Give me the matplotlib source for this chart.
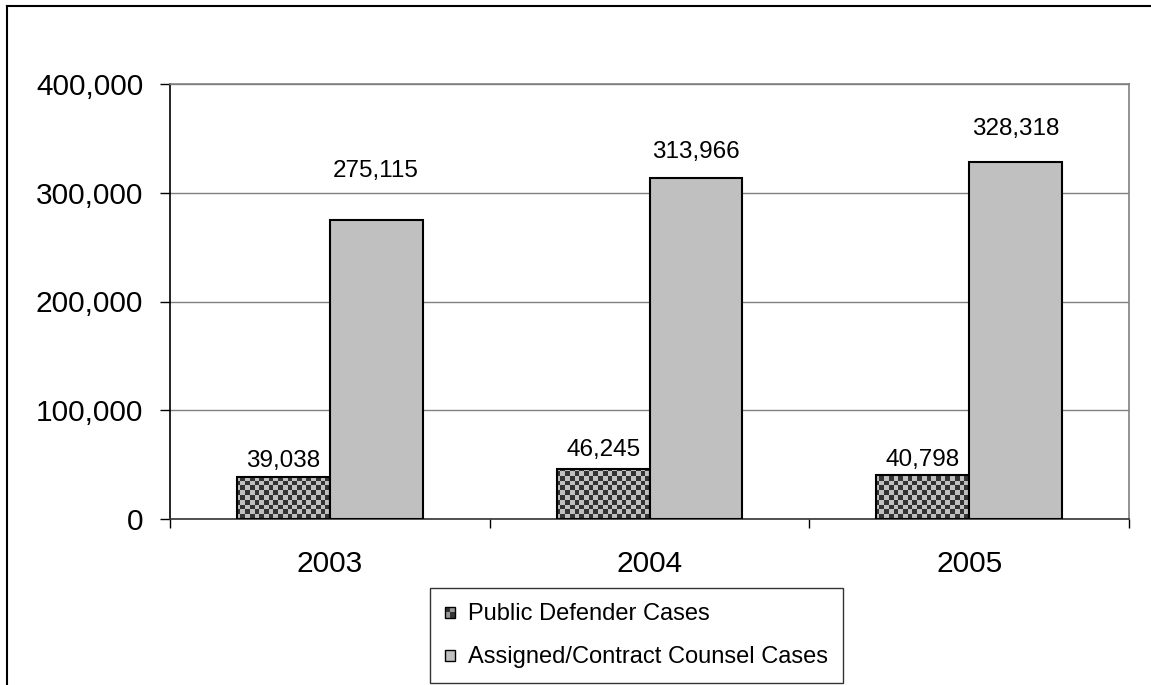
import matplotlib
matplotlib.use('Agg')
import matplotlib.pyplot as plt
from matplotlib.patches import Patch, Rectangle
from matplotlib.legend_handler import HandlerBase
from matplotlib.lines import Line2D
from matplotlib.ticker import FuncFormatter
import numpy as np

years = ['2003', '2004', '2005']
public_defender = [39038, 46245, 40798]
assigned_counsel = [275115, 313966, 328318]
series_names = ['Public Defender Cases', 'Assigned/Contract Counsel Cases']

# label gaps above the bars (pixels), as placed in the original
pd_offsets = [10, 13, 9]
ac_offsets = [43, 20, 27]

dark = '#333333'
light = '#c0c0c0'
grid_gray = '#808080'

plt.rcParams['font.family'] = ['Liberation Sans', 'DejaVu Sans']

fig = plt.figure(figsize=(11.51, 6.85), dpi=100)
fig.set_facecolor('white')
ax = fig.add_axes([170 / 1151, 1 - 519 / 685, 959 / 1151, 435 / 685])

x = np.arange(1, len(years) + 1)
width = 0.29

bars_pd = ax.bar(x - width / 2, public_defender, width, color=light,
                 edgecolor='black', linewidth=1.5, zorder=3)
bars_ac = ax.bar(x + width / 2, assigned_counsel, width, color=light,
                 edgecolor='black', linewidth=1.5, zorder=3)

ax.set_xlim(0.5, 3.5)
ax.set_ylim(0, 400000)

# checkerboard fill for public defender bars, clipped to each bar
cell = 4.7
ny, nx = int(435 / cell), int(959 / cell)
checker = (np.add.outer(np.arange(ny), np.arange(nx)) % 2).astype(float)
cmap = matplotlib.colors.ListedColormap([dark, light])
for bar in bars_pd:
    im = ax.imshow(checker, cmap=cmap, extent=(0.5, 3.5, 0, 400000),
                   aspect='auto', interpolation='nearest', zorder=2.5)
    im.set_clip_path(bar)
    bar.set_facecolor('none')

ax.set_xlim(0.5, 3.5)
ax.set_ylim(0, 400000)

for bar, val, off in zip(bars_pd, public_defender, pd_offsets):
    ax.annotate('{:,}'.format(val), (bar.get_x() + bar.get_width() / 2, val),
                xytext=(0, off), textcoords='offset pixels',
                ha='center', va='baseline', fontsize=17.5)
for bar, val, off in zip(bars_ac, assigned_counsel, ac_offsets):
    ax.annotate('{:,}'.format(val), (bar.get_x() + bar.get_width() / 2, val),
                xytext=(0, off), textcoords='offset pixels',
                ha='center', va='baseline', fontsize=17.5)

ax.set_yticks(np.arange(0, 400001, 100000))
ax.yaxis.set_major_formatter(FuncFormatter(lambda v, p: '{:,}'.format(int(v))))
ax.tick_params(axis='y', direction='out', length=7.2, width=1, pad=12,
               labelsize=21.5, color='black')
ax.grid(axis='y', color=grid_gray, linewidth=1, zorder=0)
ax.set_axisbelow(True)

ax.set_xticks([0.5, 1.5, 2.5, 3.5])
ax.set_xticklabels([])
ax.tick_params(axis='x', which='major', direction='out', length=6.5,
               width=1, color='black')
ax.set_xticks(x, minor=True)
ax.set_xticklabels(years, minor=True)
ax.tick_params(axis='x', which='minor', length=0, pad=22, labelsize=21.5)

ax.spines['left'].set_color('black')
ax.spines['bottom'].set_color('#333333')
ax.spines['top'].set_color(grid_gray)
ax.spines['right'].set_color(grid_gray)
for s in ax.spines.values():
    s.set_linewidth(1.2)


class CheckerHandler(HandlerBase):
    def create_artists(self, legend, orig_handle, xdescent, ydescent,
                       width, height, fontsize, trans):
        s = min(width, height)
        x0 = xdescent * -1 + (width - s) / 2
        y0 = -ydescent
        h = s / 2
        arts = [Rectangle((x0, y0 + h), h, h, facecolor=dark, edgecolor='none', transform=trans),
                Rectangle((x0 + h, y0 + h), h, h, facecolor='#999999', edgecolor='none', transform=trans),
                Rectangle((x0, y0), h, h, facecolor='#999999', edgecolor='none', transform=trans),
                Rectangle((x0 + h, y0), h, h, facecolor=dark, edgecolor='none', transform=trans),
                Rectangle((x0, y0), s, s, facecolor='none', edgecolor='black', linewidth=1, transform=trans)]
        return arts


class SquareHandler(HandlerBase):
    def create_artists(self, legend, orig_handle, xdescent, ydescent,
                       width, height, fontsize, trans):
        s = min(width, height)
        x0 = xdescent * -1 + (width - s) / 2
        return [Rectangle((x0, -ydescent), s, s, facecolor=light, edgecolor='black',
                          linewidth=1, transform=trans)]


h_pd = Patch(label=series_names[0])
h_ac = Rectangle((0, 0), 1, 1, label=series_names[1])
leg = fig.legend([h_pd, h_ac], series_names, loc='upper left',
                 bbox_to_anchor=(430 / 1151, 1 - 588 / 685),
                 bbox_transform=fig.transFigure, borderaxespad=0,
                 fontsize=17, frameon=True, fancybox=False, edgecolor='black',
                 handlelength=0.45, handleheight=0.45, handletextpad=0.55,
                 labelspacing=0.9, borderpad=0.62,
                 handler_map={h_pd: CheckerHandler(), h_ac: SquareHandler()})
leg.get_frame().set_linewidth(1)

# outer chart border (only left and top edges visible in the crop)
fig.add_artist(Line2D([7 / 1151, 7 / 1151], [0, 1 - 6 / 685], color='black',
                      linewidth=1.5, transform=fig.transFigure))
fig.add_artist(Line2D([7 / 1151, 1], [1 - 6 / 685, 1 - 6 / 685], color='black',
                      linewidth=1.5, transform=fig.transFigure))

fig.savefig('out.png', dpi=100, facecolor='white')
